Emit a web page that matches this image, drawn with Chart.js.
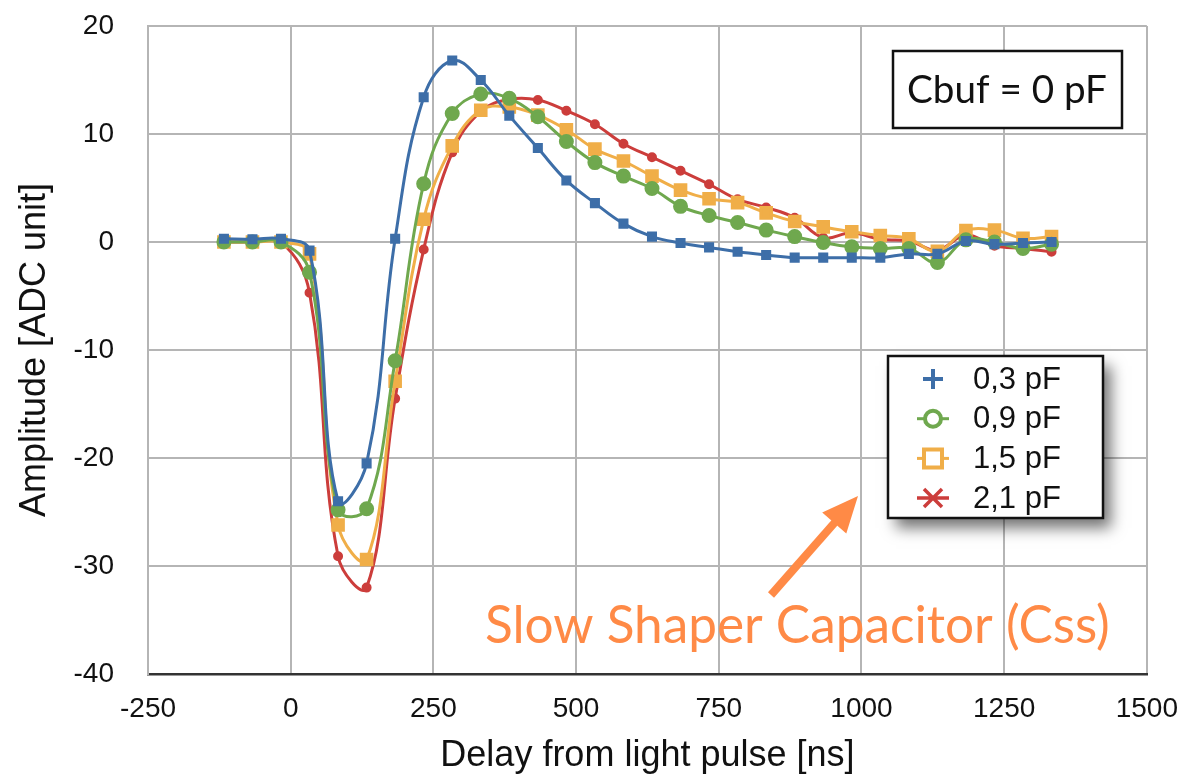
<!DOCTYPE html>
<html>
<head>
<meta charset="utf-8">
<script src="https://cdn.jsdelivr.net/npm/chart.js@4.4.1/dist/chart.umd.min.js"></script>
<style>
  html, body { margin: 0; padding: 0; background: #fff; }
  canvas { display: block; }
</style>
</head>
<body>
<canvas id="chartType" width="1182" height="778"></canvas>
<script>
// delay from light pulse [ns]
const delays = [-117, -67, -17, 33, 83, 133, 183, 233, 283, 333, 383, 433, 483, 533, 583,
                633, 683, 733, 783, 833, 883, 933, 983, 1033, 1083, 1133, 1183, 1233, 1283, 1333];

// amplitude [ADC unit] per Css value
const amp03 = [0.3, 0.25, 0.3, -0.8, -24.0, -20.5, 0.3, 13.4, 16.8, 15.0, 11.7, 8.7, 5.7, 3.6, 1.7,
               0.5, -0.1, -0.5, -0.9, -1.2, -1.45, -1.45, -1.45, -1.45, -1.1, -1.1, 0.1, -0.2, -0.1, 0.0];
const amp09 = [0, 0, 0, -2.8, -24.8, -24.7, -11.0, 5.4, 11.9, 13.7, 13.3, 11.6, 9.3, 7.35, 6.1,
               4.95, 3.3, 2.45, 1.8, 1.1, 0.5, -0.05, -0.45, -0.6, -0.6, -1.9, 0.2, 0.0, -0.6, -0.2];
const amp15 = [0, 0, 0, -1.1, -26.2, -29.4, -12.9, 2.1, 8.9, 12.2, 12.5, 11.75, 10.4, 8.6, 7.5,
               6.1, 4.8, 4.0, 3.65, 2.7, 1.9, 1.4, 0.95, 0.6, 0.3, -0.85, 1.05, 1.1, 0.35, 0.5];
const amp21 = [0, 0, 0, -4.7, -29.1, -32.0, -14.5, -0.7, 8.3, 12.1, 13.2, 13.15, 12.15, 10.9, 9.1,
               7.85, 6.6, 5.35, 3.95, 3.2, 2.25, 0.4, 0.85, 0.25, 0.1, -0.75, 0.65, -0.35, -0.6, -0.9];

const seriesLabels = ['0,3 pF', '0,9 pF', '1,5 pF', '2,1 pF'];
const xTickValues = [-250, 0, 250, 500, 750, 1000, 1250, 1500];
const yTickValues = [-40, -30, -20, -10, 0, 10, 20];

const boxText = 'Cbuf = 0 pF';
const noteText = 'Slow Shaper Capacitor (Css)';

const colors = ['#3d6ea8', '#6fa84e', '#f0ae48', '#cc3d3b'];
const legendMarks = ['plus', 'circle', 'square', 'asterisk'];

function pts(ys) {
    return ys.map((y, i) => ({ x: delays[i], y: y }));
}

function fitFont(ctx, text, family, width, start) {
    let size = start;
    ctx.font = size + 'px ' + family;
    const w = ctx.measureText(text).width;
    size = size * width / w;
    return size + 'px ' + family;
}

function drawMark(ctx, kind, x, y, color) {
    ctx.save();
    ctx.strokeStyle = color;
    ctx.fillStyle = '#fff';
    ctx.lineWidth = 4;
    if (kind === 'plus') {
        ctx.beginPath();
        ctx.moveTo(x - 10, y); ctx.lineTo(x + 10, y);
        ctx.moveTo(x, y - 10); ctx.lineTo(x, y + 10);
        ctx.stroke();
    } else if (kind === 'circle') {
        ctx.lineWidth = 3;
        ctx.beginPath(); ctx.moveTo(x - 16, y); ctx.lineTo(x + 16, y); ctx.stroke();
        ctx.lineWidth = 4;
        ctx.beginPath(); ctx.arc(x, y, 8, 0, Math.PI * 2); ctx.fill(); ctx.stroke();
    } else if (kind === 'square') {
        ctx.lineWidth = 3;
        ctx.beginPath(); ctx.moveTo(x - 16, y); ctx.lineTo(x + 16, y); ctx.stroke();
        ctx.lineWidth = 4;
        ctx.beginPath(); ctx.rect(x - 9, y - 9, 18, 18); ctx.fill(); ctx.stroke();
    } else {
        ctx.lineWidth = 3.5;
        ctx.beginPath();
        ctx.moveTo(x - 16, y); ctx.lineTo(x + 16, y);
        ctx.moveTo(x - 9, y - 9); ctx.lineTo(x + 9, y + 9);
        ctx.moveTo(x - 9, y + 9); ctx.lineTo(x + 9, y - 9);
        ctx.stroke();
    }
    ctx.restore();
}

const overlay = {
    id: 'overlay',
    afterDraw(chart) {
        const ctx = chart.ctx;

        // Cbuf box
        ctx.save();
        ctx.fillStyle = '#fff';
        ctx.fillRect(893, 51, 229, 77);
        ctx.strokeStyle = '#111';
        ctx.lineWidth = 2.5;
        ctx.strokeRect(893, 51, 229, 77);
        ctx.fillStyle = '#111';
        ctx.font = fitFont(ctx, boxText, 'Lato', 200, 36);
        ctx.textAlign = 'center';
        ctx.textBaseline = 'middle';
        ctx.fillText(boxText, 1007, 91);
        ctx.restore();

        // legend with shadow
        ctx.save();
        ctx.shadowColor = 'rgba(0,0,0,0.55)';
        ctx.shadowBlur = 14;
        ctx.shadowOffsetX = 8;
        ctx.shadowOffsetY = 10;
        ctx.fillStyle = '#fff';
        ctx.fillRect(888, 356, 215, 162);
        ctx.restore();
        ctx.save();
        ctx.strokeStyle = '#111';
        ctx.lineWidth = 2.5;
        ctx.strokeRect(888, 356, 215, 162);
        ctx.font = '31px "Liberation Sans", Arial, sans-serif';
        ctx.fillStyle = '#111';
        ctx.textBaseline = 'middle';
        chart.data.datasets.forEach((ds, i) => {
            const y = 379 + i * 39.7;
            drawMark(ctx, legendMarks[i], 933, y, ds.borderColor);
            ctx.fillText(ds.label, 973, y + 1);
        });
        ctx.restore();

        // orange note + arrow
        ctx.save();
        const orange = '#ff8a46';
        ctx.fillStyle = orange;
        ctx.strokeStyle = orange;
        ctx.font = fitFont(ctx, noteText, 'Lato', 625, 46);
        ctx.textBaseline = 'middle';
        ctx.fillText(noteText, 485, 626);
        const tx = 858, ty = 496, sx = 771, sy = 595;
        const len = Math.hypot(tx - sx, ty - sy);
        const dx = (tx - sx) / len, dy = (ty - sy) / len;
        const bx = tx - dx * 36, by = ty - dy * 36;
        ctx.lineWidth = 8;
        ctx.beginPath();
        ctx.moveTo(sx, sy);
        ctx.lineTo(bx + dx * 4, by + dy * 4);
        ctx.stroke();
        ctx.beginPath();
        ctx.moveTo(tx, ty);
        ctx.lineTo(bx - dy * 16, by + dx * 16);
        ctx.lineTo(bx + dy * 16, by - dx * 16);
        ctx.closePath();
        ctx.fill();
        ctx.restore();
    }
};

document.addEventListener("DOMContentLoaded", function(){
    const chartType = document.getElementById("chartType");
    const tickFont = { family: '"Liberation Sans", Arial, sans-serif', size: 28 };
    const titleFont = { family: '"Liberation Sans", Arial, sans-serif', size: 36 };
    const gridGray = '#b5b5b5';

    new Chart(chartType, {
        type: 'line',
        data: {
            datasets: [
                { label: seriesLabels[0], data: pts(amp03), borderColor: colors[0], backgroundColor: colors[0],
                  pointStyle: 'rect', pointRadius: 5, borderWidth: 3 },
                { label: seriesLabels[1], data: pts(amp09), borderColor: colors[1], backgroundColor: colors[1],
                  pointStyle: 'circle', pointRadius: 6, borderWidth: 3 },
                { label: seriesLabels[2], data: pts(amp15), borderColor: colors[2], backgroundColor: colors[2],
                  pointStyle: 'rect', pointRadius: 7.5, borderWidth: 3 },
                { label: seriesLabels[3], data: pts(amp21), borderColor: colors[3], backgroundColor: colors[3],
                  pointStyle: 'circle', pointRadius: 3.5, borderWidth: 3 }
            ]
        },
        options: {
            responsive: false,
            animation: false,
            tension: 0.4,
            elements: { point: { borderWidth: 0 } },
            layout: { padding: { top: 26, right: 35, left: 0, bottom: 0 } },
            plugins: {
                legend: { display: false },
                tooltip: { enabled: false }
            },
            scales: {
                x: {
                    type: 'linear',
                    min: -250, max: 1500,
                    afterBuildTicks: s => { s.ticks = xTickValues.map(v => ({ value: v })); },
                    afterFit: s => { s.height = 104; },
                    ticks: { font: tickFont, color: '#111', padding: 4, maxRotation: 0,
                             callback: v => String(v) },
                    grid: { color: gridGray, lineWidth: 2, tickLength: 14, tickColor: 'rgba(0,0,0,0)' },
                    border: { color: '#333', width: 2.5 },
                    title: { display: true, text: 'Delay from light pulse [ns]', font: titleFont,
                             color: '#111', padding: { top: 0, bottom: 0 } }
                },
                y: {
                    min: -40, max: 20,
                    afterBuildTicks: s => { s.ticks = yTickValues.map(v => ({ value: v })); },
                    afterFit: s => { s.width = 148; },
                    ticks: { font: tickFont, color: '#111', padding: 4, callback: v => String(v) },
                    grid: { color: c => c.tick && c.tick.value === -40 ? 'rgba(0,0,0,0)' : gridGray,
                            lineWidth: 2, tickLength: 30, tickColor: 'rgba(0,0,0,0)' },
                    border: { color: gridGray, width: 2 },
                    title: { display: true, text: 'Amplitude [ADC unit]', font: titleFont,
                             color: '#111', padding: { top: 13, bottom: 0 } }
                }
            }
        },
        plugins: [overlay]
    });
});
</script>
</body>
</html>
